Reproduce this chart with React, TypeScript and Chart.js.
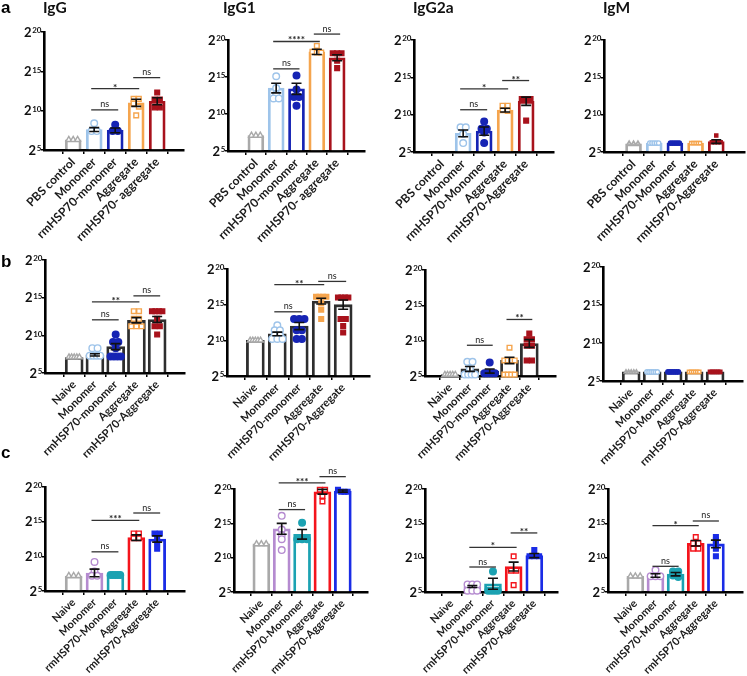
import React, { useEffect, useRef } from "react";
import { Chart, registerables } from "chart.js";
Chart.register(...registerables);

const FONT = "Lato, 'Open Sans', sans-serif";

// ---------- categories ----------
const catsA_lower = ["PBS control", "Monomer", "rmHSP70-monomer", "Aggregate", "rmHSP70- aggregate"];
const catsA_upper = ["PBS control", "Monomer", "rmHSP70-Monomer", "Aggregate", "rmHSP70-Aggregate"];
const catsB_lower = ["Naive", "Monomer", "rmHSP70-monomer", "Aggregate", "rmHSP70-Aggregate"];
const catsB_upper = ["Naive", "Monomer", "rmHSP70-Monomer", "Aggregate", "rmHSP70-Aggregate"];
const catsC = ["Naive", "Monomer", "rmHSP70-Monomer", "Aggregate", "rmHSP70-Aggregate"];

// y axis: log2 titre exponents
const yTickExponents = [5, 10, 15, 20];
const yFloor = 5;

// ---------- row a ----------
const aIgG_means = [6.3, 7.6, 7.5, 11.0, 11.2];
const aIgG_sem = [0, 0.25, 0.3, 0.45, 0.45];
const aIgG_points = [[6.3, 6.3, 6.3], [8.4, 7.4, 7.4], [8.2, 7.4, 7.4], [11.5, 11.5, 10.9, 10.5, 9.4], [12.3, 11.4, 11.4, 10.4, 10.4]];
const aIgG_sig: [number, number, number, string][] = [[1, 2, 10.1, "ns"], [1, 3, 12.8, "*"], [3, 4, 14.2, "ns"]];

const aIgG1_means = [7.1, 13.5, 13.4, 18.4, 17.6];
const aIgG1_sem = [0, 0.65, 0.75, 0.35, 0.4];
const aIgG1_points = [[7.1, 7.1, 7.1], [15.1, 13.5, 12.7, 12.1, 12.1], [15.2, 13.3, 12.3, 12.3, 11.1], [19.2, 18.4, 18.3, 18.3], [18.2, 18.2, 18.2, 17.2, 16.2]];
const aIgG1_sig: [number, number, number, string][] = [[1, 2, 16.1, "ns"], [1, 3, 19.8, "****"], [3, 4, 20.8, "ns"]];

const aIgG2a_means = [null, 7.5, 7.8, 10.6, 11.8];
const aIgG2a_sem = [0, 0.45, 0.55, 0.25, 0.55];
const aIgG2a_points = [[], [8.3, 8.3, 7.4, 6.2], [9.1, 8.1, 8.1, 7.6, 6.2], [11.2, 11.2, 10.6, 10.5], [12.1, 12.1, 12.1, 12.1, 9.2]];
const aIgG2a_sig: [number, number, number, string][] = [[1, 2, 10.66, "ns"], [1, 3, 13.46, "*"], [3, 4, 14.57, "**"]];

const aIgM_means = [6.1, 6.2, 6.2, 6.2, 6.4];
const aIgM_sem = [0, 0, 0, 0, 0.25];
const aIgM_points = [[6.2, 6.2, 6.2], [6.2, 6.2, 6.2, 6.2, 6.2], [6.2, 6.2, 6.2, 6.2, 6.2], [6.2, 6.2, 6.2, 6.2, 6.2], [7.2, 6.3, 6.3, 6.3, 6.3]];
const aIgM_sig: [number, number, number, string][] = [];

// ---------- row b ----------
const bIgG_means = [7.05, 7.4, 8.5, 12.0, 12.1];
const bIgG_sem = [0, 0.15, 0.4, 0.35, 0.4];
const bIgG_points = [[7.1, 7.1, 7.1, 7.1, 7.1], [8.3, 8.3, 7.3, 7.3, 7.3, 7.3], [10.1, 9.1, 9.1, 8.3, 7.2, 7.2, 7.2, 7.2], [13.2, 13.2, 12.2, 12.2, 11.2, 11.2, 11.2], [13.2, 13.2, 13.2, 13.2, 12.2, 11.2, 11.2, 10.1]];
const bIgG_sig: [number, number, number, string][] = [[1, 2, 12.06, "ns"], [1, 3, 14.45, "**"], [3, 4, 15.24, "ns"]];

const bIgG1_means = [10.0, 10.9, 12.0, 15.5, 15.0];
const bIgG1_sem = [0, 0.25, 0.5, 0.4, 0.65];
const bIgG1_points = [[10, 10, 10, 10, 10], [12.1, 11.4, 11.4, 10.7, 10.7, 10.2, 10.2, 10.2], [13.0, 13.0, 13.0, 11.4, 11.4, 10.2, 10.2], [16.1, 16.1, 16.1, 16.1, 15.2, 14.3, 13.0], [16.0, 16.0, 16.0, 16.0, 13.0, 13.0, 12.0, 11.1]];
const bIgG1_sig: [number, number, number, string][] = [[1, 2, 14.0, "ns"], [1, 3, 17.8, "**"], [3, 4, 18.26, "ns"]];

const bIgG2a_means = [5.2, 6.0, 5.7, 7.2, 9.6];
const bIgG2a_sem = [0, 0.35, 0.3, 0.45, 0.55];
const bIgG2a_points = [[5.2, 5.2, 5.2, 5.2, 5.2], [7.0, 7.0, 6.0, 5.2, 5.2, 5.2, 5.2], [6.9, 5.4, 5.4, 5.4, 5.4, 5.4], [9.0, 7.2, 7.2, 7.2, 7.2, 5.2, 5.2, 5.2, 5.2], [11.0, 10.2, 10.2, 9.3, 9.3, 7.2, 7.2]];
const bIgG2a_sig: [number, number, number, string][] = [[1, 2, 9.35, "ns"], [3, 4, 13.0, "**"]];

const bIgM_means = [6.2, 6.2, 6.2, 6.2, 6.2];
const bIgM_sem = [0, 0, 0, 0, 0];
const bIgM_points = [[6.2, 6.2, 6.2, 6.2, 6.2], [6.2, 6.2, 6.2, 6.2, 6.2, 6.2], [6.2, 6.2, 6.2, 6.2, 6.2, 6.2], [6.2, 6.2, 6.2, 6.2, 6.2, 6.2], [6.2, 6.2, 6.2, 6.2, 6.2, 6.2]];
const bIgM_sig: [number, number, number, string][] = [];

// ---------- row c ----------
const cIgG_means = [7.15, 7.6, 7.3, 12.7, 12.5];
const cIgG_sem = [0, 0.55, 0, 0.4, 0.45];
const cIgG_points = [[7.2, 7.2, 7.2], [9.2, 7.8, 7.2, 7.2], [7.3, 7.3, 7.3, 7.3, 7.3], [13.3, 13.3, 12.6, 12.6], [13.3, 13.3, 12.5, 11.9, 11.1]];
const cIgG_sig: [number, number, number, string][] = [[1, 2, 10.65, "ns"], [1, 3, 15.2, "***"], [3, 4, 16.25, "ns"]];

const cIgG1_means = [12.0, 14.2, 13.4, 19.6, 19.7];
const cIgG1_sem = [0, 0.8, 0.7, 0.35, 0.15];
const cIgG1_points = [[12, 12, 12], [16.1, 14.1, 13.3, 12.7, 11.1], [15.1, 12.7, 12.7, 12.7], [19.9, 19.9, 19.0, 18.2], [19.6, 19.6, 19.6, 19.9]];
const cIgG1_sig: [number, number, number, string][] = [[1, 2, 17.0, "ns"], [1, 3, 20.9, "***"], [3, 4, 21.8, "ns"]];

const cIgG2a_means = [null, 5.8, 6.2, 8.7, 10.3];
const cIgG2a_sem = [0, 0.15, 0.8, 0.65, 0.3];
const cIgG2a_points = [[], [6.1, 6.1, 6.1, 5.2, 5.2, 5.2], [8.0, 5.2, 5.2, 5.2, 5.2], [10.2, 8.1, 8.1, 6.0], [11.1, 10.2, 10.2, 10.2]];
const cIgG2a_sig: [number, number, number, string][] = [[1, 2, 8.64, "ns"], [1, 3, 11.5, "*"], [3, 4, 13.6, "**"]];

const cIgM_means = [7.3, 7.4, 7.6, 12.1, 12.0];
const cIgM_sem = [0, 0.25, 0.25, 0.4, 0.55];
const cIgM_points = [[7.3, 7.3, 7.3], [8.2, 7.3, 7.3, 7.3], [8.0, 8.0, 7.4, 7.2], [13.0, 12.1, 12.1, 11.3, 11.3], [13.0, 12.5, 12.0, 11.3, 10.2]];
const cIgM_sig: [number, number, number, string][] = [[1, 2, 8.74, "ns"], [1, 3, 14.66, "*"], [3, 4, 15.34, "ns"]];

// ---------- styles ----------
const GRAY = "#a9a9a9";
const LBLUE = "#9ec4ea";
const DBLUE = "#1624b4";
const ORANGE = "#f5a54e";
const DRED = "#a8121c";
const PURPLE = "#b58bd0";
const TEAL = "#1ca2b2";
const RED = "#f4141c";
const BLUE = "#1a2ce6";
const DARK = "#2e2e2e";

const styleA = { bar: [GRAY, LBLUE, DBLUE, ORANGE, DRED], pt: [GRAY, LBLUE, DBLUE, ORANGE, DRED], shapes: ["triangle", "circle", "circle", "rect", "rect"], filled: [false, false, true, false, true], barW: 16, ptR: 3.3, labelSize: 12 };
const styleAm = { ...styleA, ptR: 2.2 };
const styleB = { bar: [DARK, DARK, DARK, DARK, DARK], pt: [GRAY, LBLUE, DBLUE, ORANGE, DRED], shapes: ["triangle", "circle", "circle", "rect", "rect"], filled: [false, false, true, false, true], barW: 18, ptR: 3.3, labelSize: 11.2 };
const styleB2 = { ...styleB, filled: [false, false, true, true, true] };
const styleBm = { ...styleB, ptR: 2.2 };
const styleC = { bar: [GRAY, PURPLE, TEAL, RED, BLUE], pt: [GRAY, PURPLE, TEAL, RED, BLUE], shapes: ["triangle", "circle", "circle", "rect", "rect"], filled: [false, false, true, false, true], barW: 17, ptR: 3.3, labelSize: 10.8 };

// ---------- layout boxes (pixel geometry of each plot frame) ----------
const boxes = {
  a1: { L: 44, R: 184, top: 32, bottom: 150, c0: 63, c4: 168 },
  a2: { L: 228, R: 365, top: 39.5, bottom: 150.7, c0: 245.7, c4: 347.3 },
  a3: { L: 414, R: 554, top: 39.5, bottom: 151.7, c0: 431.7, c4: 536.7 },
  a4: { L: 604, R: 745, top: 39.5, bottom: 151.7, c0: 623.3, c4: 726.7 },
  b1: { L: 45, R: 185, top: 260, bottom: 373.3, c0: 64, c4: 167.7 },
  b2: { L: 226.7, R: 370, top: 269.3, bottom: 375.7, c0: 244.3, c4: 354.3 },
  b3: { L: 425, R: 556, top: 270, bottom: 375.7, c0: 440, c4: 539 },
  b4: { L: 603.3, R: 743, top: 267.3, bottom: 380.7, c0: 621, c4: 725.7 },
  c1: { L: 45, R: 185, top: 486.7, bottom: 591, c0: 63.3, c4: 167.7 },
  c2: { L: 234.3, R: 368, top: 489.3, bottom: 591.7, c0: 251.7, c4: 353.3 },
  c3: { L: 425, R: 558, top: 489.3, bottom: 592.3, c0: 441.7, c4: 545 },
  c4: { L: 607.7, R: 742.7, top: 489.3, bottom: 592.3, c0: 625, c4: 725.7 },
};

type Sig = [number, number, number, string][];
type Panel = {
  key: string; cats: string[]; means: (number | null)[]; sem: number[]; points: number[][]; sig: Sig;
  box: { L: number; R: number; top: number; bottom: number; c0: number; c4: number };
  style: typeof styleA;
};

const panels: Panel[] = [
  { key: "a1", cats: catsA_lower, means: aIgG_means, sem: aIgG_sem, points: aIgG_points, sig: aIgG_sig, box: boxes.a1, style: styleA },
  { key: "a2", cats: catsA_lower, means: aIgG1_means, sem: aIgG1_sem, points: aIgG1_points, sig: aIgG1_sig, box: boxes.a2, style: styleA },
  { key: "a3", cats: catsA_upper, means: aIgG2a_means, sem: aIgG2a_sem, points: aIgG2a_points, sig: aIgG2a_sig, box: boxes.a3, style: styleA },
  { key: "a4", cats: catsA_upper, means: aIgM_means, sem: aIgM_sem, points: aIgM_points, sig: aIgM_sig, box: boxes.a4, style: styleAm },
  { key: "b1", cats: catsB_lower, means: bIgG_means, sem: bIgG_sem, points: bIgG_points, sig: bIgG_sig, box: boxes.b1, style: styleB },
  { key: "b2", cats: catsB_lower, means: bIgG1_means, sem: bIgG1_sem, points: bIgG1_points, sig: bIgG1_sig, box: boxes.b2, style: styleB2 },
  { key: "b3", cats: catsB_lower, means: bIgG2a_means, sem: bIgG2a_sem, points: bIgG2a_points, sig: bIgG2a_sig, box: boxes.b3, style: styleB },
  { key: "b4", cats: catsB_upper, means: bIgM_means, sem: bIgM_sem, points: bIgM_points, sig: bIgM_sig, box: boxes.b4, style: styleBm },
  { key: "c1", cats: catsC, means: cIgG_means, sem: cIgG_sem, points: cIgG_points, sig: cIgG_sig, box: boxes.c1, style: styleC },
  { key: "c2", cats: catsC, means: cIgG1_means, sem: cIgG1_sem, points: cIgG1_points, sig: cIgG1_sig, box: boxes.c2, style: styleC },
  { key: "c3", cats: catsC, means: cIgG2a_means, sem: cIgG2a_sem, points: cIgG2a_points, sig: cIgG2a_sig, box: boxes.c3, style: styleC },
  { key: "c4", cats: catsC, means: cIgM_means, sem: cIgM_sem, points: cIgM_points, sig: cIgM_sig, box: boxes.c4, style: styleC },
];

// spread replicate points horizontally when values coincide (GraphPad-like scatter)
function spread(values: number[], center: number, step: number, maxHalf: number) {
  const sorted = [...values].sort((a, b) => b - a);
  const clusters: number[][] = [];
  for (const v of sorted) {
    const last = clusters[clusters.length - 1];
    if (last && Math.abs(last[0] - v) < 0.45) last.push(v);
    else clusters.push([v]);
  }
  const out: { x: number; y: number }[] = [];
  for (const cl of clusters) {
    const m = cl.length;
    const st = m > 1 ? Math.min(step, (2 * maxHalf) / (m - 1)) : 0;
    cl.forEach((v, j) => out.push({ x: center + (j - (m - 1) / 2) * st, y: v }));
  }
  return out;
}

const YW = 75, XH = 92, PT = 42, PR = 6;

function PanelChart({ p }: { p: Panel }) {
  const ref = useRef<HTMLCanvasElement>(null);
  const left = Math.round(p.box.L - YW);
  const top = Math.round(p.box.top - PT);
  const width = Math.round(p.box.R + PR - left);
  const height = Math.round(p.box.bottom + XH - top);

  useEffect(() => {
    const b = p.box;
    const s = (b.c4 - b.c0) / 4;
    const xmin = -(b.c0 - b.L) / s;
    const xmax = 4 + (b.R - b.c4) / s;
    const ptStep = 6.6 / s;
    const ptHalf = (p.style.barW / 2 - 2.5) / s;

    const pointSets = p.points.map((vals, i) => ({
      type: "scatter" as const,
      data: spread(vals, i, ptStep, ptHalf),
      pointStyle: p.style.shapes[i],
      pointRadius: p.style.ptR,
      pointBorderWidth: 1.4,
      pointBorderColor: p.style.pt[i],
      pointBackgroundColor: p.style.filled[i] ? p.style.pt[i] : "#ffffff",
      order: 1,
      clip: false as any,
    }));

    const barSet = {
      type: "bar" as const,
      data: p.means.map((m, i) => ({ x: i, y: m })),
      base: yFloor,
      backgroundColor: "#ffffff",
      borderColor: p.style.bar,
      borderWidth: 2.8,
      barThickness: p.style.barW,
      order: 10,
      clip: false as any,
    };

    const overlay = {
      id: "overlay",
      afterDatasetsDraw(chart: any) {
        const { ctx, scales } = chart;
        const x = scales.x, y = scales.y;
        ctx.save();
        ctx.strokeStyle = "#111";
        ctx.lineWidth = 1.6;
        p.means.forEach((m, i) => {
          const e = p.sem[i];
          if (m == null || !e) return;
          const px = x.getPixelForValue(i);
          const yt = y.getPixelForValue(m + e);
          const yb = y.getPixelForValue(m - e);
          ctx.beginPath();
          ctx.moveTo(px, yt); ctx.lineTo(px, yb);
          ctx.moveTo(px - 5, yt); ctx.lineTo(px + 5, yt);
          ctx.moveTo(px - 5, yb); ctx.lineTo(px + 5, yb);
          ctx.stroke();
        });
        p.sig.forEach(([a, c, lvl, label]) => {
          const x1 = x.getPixelForValue(a) - 3;
          const x2 = x.getPixelForValue(c) + 3;
          const py = y.getPixelForValue(lvl);
          ctx.strokeStyle = "#333";
          ctx.lineWidth = 1.3;
          ctx.beginPath(); ctx.moveTo(x1, py); ctx.lineTo(x2, py); ctx.stroke();
          ctx.fillStyle = "#222";
          ctx.textAlign = "center";
          ctx.textBaseline = "alphabetic";
          if (label === "ns") {
            ctx.font = `9px ${FONT}`;
            ctx.fillText(label, (x1 + x2) / 2, py - 2.5);
          } else {
            ctx.font = `bold 10px ${FONT}`;
            ctx.fillText(label, (x1 + x2) / 2, py + 2);
          }
        });
        ctx.restore();
      },
      afterDraw(chart: any) {
        const { ctx, chartArea, scales } = chart;
        const y = scales.y;
        ctx.save();
        ctx.fillStyle = "#111";
        ctx.textBaseline = "alphabetic";
        yTickExponents.forEach((ex) => {
          const py = y.getPixelForValue(ex);
          const right = chartArea.left - 2.5;
          ctx.font = `bold 8px ${FONT}`;
          const sup = String(ex);
          const sw = ctx.measureText(sup).width;
          ctx.textAlign = "left";
          ctx.fillText(sup, right - sw, py + 1.2);
          ctx.font = `bold 13px ${FONT}`;
          ctx.textAlign = "right";
          ctx.fillText("2", right - sw - 0.8, py + 4.6);
        });
        ctx.restore();
      },
    };

    const chart = new Chart(ref.current as HTMLCanvasElement, {
      type: "bar",
      data: { datasets: [...pointSets, barSet] as any },
      options: {
        responsive: false,
        animation: false,
        events: [],
        layout: { padding: { top: PT, right: PR, left: 0, bottom: 0 } },
        plugins: { legend: { display: false }, tooltip: { enabled: false }, title: { display: false } },
        scales: {
          x: {
            type: "linear",
            min: xmin,
            max: xmax,
            afterBuildTicks: (sc: any) => { sc.ticks = p.cats.map((_, i) => ({ value: i })); },
            afterFit: (sc: any) => { sc.height = XH; sc.paddingLeft = 0; sc.paddingRight = 0; },
            ticks: {
              autoSkip: false,
              minRotation: 45,
              maxRotation: 45,
              padding: 1,
              color: "#1a1a1a",
              font: { family: FONT, size: p.style.labelSize, weight: "bold" },
              callback: (_v: any, i: number) => p.cats[i],
            },
            grid: { display: true, drawOnChartArea: false, drawTicks: true, tickLength: 4, color: "#000", lineWidth: 1.5 },
            border: { display: true, color: "#000", width: 2.6 },
          },
          y: {
            type: "linear",
            min: 5,
            max: 20,
            afterBuildTicks: (sc: any) => { sc.ticks = yTickExponents.map((v) => ({ value: v })); },
            afterFit: (sc: any) => { sc.width = YW; sc.paddingTop = 0; sc.paddingBottom = 0; },
            ticks: { display: false },
            grid: { display: true, drawOnChartArea: false, drawTicks: true, tickLength: 3, color: "#000", lineWidth: 1.5 },
            border: { display: true, color: "#000", width: 2.6 },
          },
        },
      } as any,
      plugins: [overlay as any],
    });
    return () => chart.destroy();
  }, []);

  return (
    <canvas
      ref={ref}
      width={width}
      height={height}
      style={{ position: "absolute", left, top, width, height }}
    />
  );
}

const titles = [
  { text: "IgG", x: 43 },
  { text: "IgG1", x: 223 },
  { text: "IgG2a", x: 413 },
  { text: "IgM", x: 603 },
];
const letters = [
  { text: "a", y: 13.5 },
  { text: "b", y: 267 },
  { text: "c", y: 458 },
];

export default function App() {
  return (
    <div style={{ position: "fixed", left: 0, top: 0, width: 747, height: 676, background: "#fff", overflow: "hidden" }}>
      {panels.map((p) => (
        <PanelChart key={p.key} p={p} />
      ))}
      {titles.map((t) => (
        <div key={t.text} style={{ position: "absolute", left: t.x, top: 13.5 - 15.5 * 0.887, fontFamily: FONT, fontWeight: 700, fontSize: 15.5, lineHeight: 1, color: "#111", whiteSpace: "nowrap" }}>
          {t.text}
        </div>
      ))}
      {letters.map((l) => (
        <div key={l.text} style={{ position: "absolute", left: 1, top: l.y - 17 * 0.8465, fontFamily: "'Liberation Sans', Arial, sans-serif", fontWeight: 700, fontSize: 17, lineHeight: 1, color: "#000" }}>
          {l.text}
        </div>
      ))}
    </div>
  );
}
